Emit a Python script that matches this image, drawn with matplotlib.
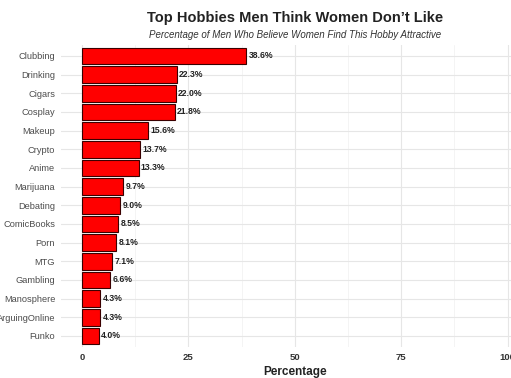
import matplotlib
matplotlib.use("Agg")
import matplotlib.pyplot as plt
from matplotlib.ticker import MultipleLocator

plt.rcParams['font.family'] = ['Liberation Sans', 'DejaVu Sans']

hobbies = ["Clubbing", "Drinking", "Cigars", "Cosplay", "Makeup", "Crypto", "Anime",
           "Marijuana", "Debating", "ComicBooks", "Porn", "MTG", "Gambling",
           "Manosphere", "ArguingOnline", "Funko"]
percentages = [38.6, 22.3, 22.0, 21.8, 15.6, 13.7, 13.3, 9.7, 9.0, 8.5, 8.1, 7.1, 6.6,
               4.3, 4.3, 4.0]
x_ticks = [0, 25, 50, 75, 100]

fig = plt.figure(figsize=(5.11, 3.78), dpi=100)
ax = fig.add_axes([0.1188, 0.0815, 0.9164, 0.80])

n = len(hobbies)
ypos = list(range(n, 0, -1))
ax.barh(ypos, percentages, height=0.9, color="#ff0000", edgecolor="#3a0000", linewidth=0.8, zorder=3)
for y, v in zip(ypos, percentages):
    ax.text(v + 0.5, y, f"{v:.1f}%", va="center", ha="left", fontsize=6.2,
            fontweight="bold", color="#222222", zorder=4)

ax.set_xlim(-5, 105)
ax.set_ylim(0.4, n + 0.6)
ax.set_yticks(ypos)
ax.set_yticklabels(hobbies)
ax.set_xticks(x_ticks)
ax.set_xticklabels([str(t) for t in x_ticks], fontweight="bold")
ax.xaxis.set_minor_locator(MultipleLocator(12.5))

ax.grid(True, which="major", color="#e6e6e6", linewidth=0.8, zorder=0)
ax.grid(True, which="minor", axis="x", color="#f0f0f0", linewidth=0.5, zorder=0)
for s in ax.spines.values():
    s.set_visible(False)
ax.tick_params(axis="both", which="both", length=0)
ax.tick_params(axis="y", labelsize=6.7, labelcolor="#4d4d4d", pad=4)
ax.tick_params(axis="x", labelsize=6.8, labelcolor="#333333", pad=4)

ax.set_xlabel("Percentage", fontsize=8.5, fontweight="bold", color="#222222", labelpad=3)

fig.text(0.577, 0.952, "Top Hobbies Men Think Women Don\u2019t Like", ha="center", va="center",
         fontsize=10.5, fontweight="bold", color="#222222")
fig.text(0.577, 0.907, "Percentage of Men Who Believe Women Find This Hobby Attractive",
         ha="center", va="center", fontsize=7, style="italic", color="#333333")

fig.savefig("out.png", dpi=100)
